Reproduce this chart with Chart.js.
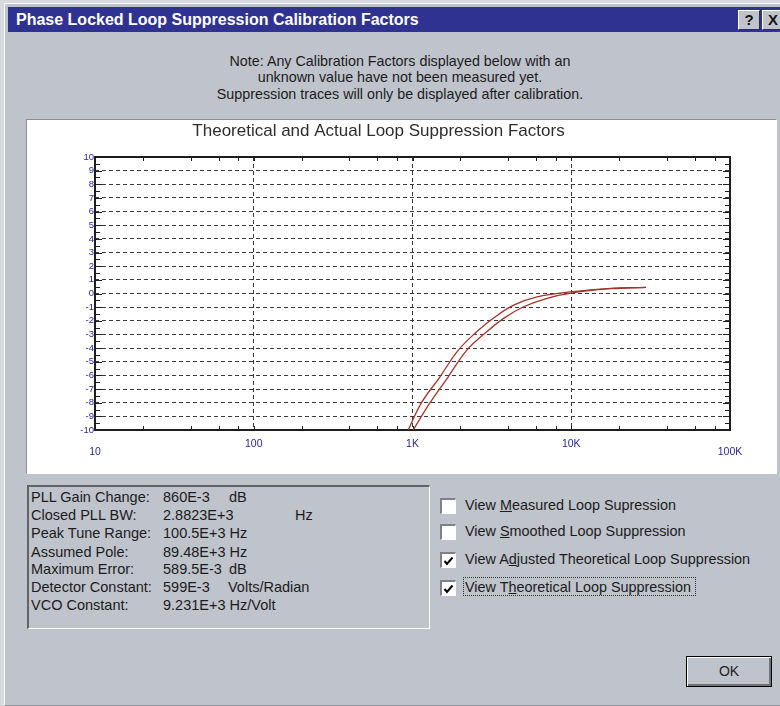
<!DOCTYPE html>
<html>
<head>
<meta charset="utf-8">
<script src="https://cdn.jsdelivr.net/npm/chart.js@4.4.0/dist/chart.umd.min.js"></script>
<style>
  body { margin: 0; width: 780px; height: 706px; overflow: hidden; background: #d6d9de; font-family: "Liberation Sans", Arial, sans-serif; color: #1c1c1c; }
  .abs { position: absolute; }
  .win { left: 4px; top: 3px; width: 800px; height: 701px; background: #bfc3cb; border-left: 1px solid #fff; border-top: 1px solid #fff; border-bottom: 1px solid #8d9199; }
  .titlebar { left: 8px; top: 7px; width: 780px; height: 25px; background: #2f3290; }
  .titletext { left: 16px; top: 7px; line-height: 25px; font-size: 16px; font-weight: bold; color: #fff; white-space: nowrap; }
  .tbtn { top: 10px; width: 20px; height: 18px; background: #bfc3cb; border-top: 1px solid #fff; border-left: 1px solid #fff; border-right: 1px solid #303030; border-bottom: 1px solid #303030; font-weight: bold; font-size: 15px; line-height: 18px; text-align: center; color: #111; }
  .note { left: 100px; top: 52.5px; width: 600px; text-align: center; font-size: 14.3px; line-height: 16.5px; }
  .panel { left: 26px; top: 119px; width: 749px; height: 353px; background: #fff; border-top: 1px solid #8a8e96; border-left: 1px solid #8a8e96; border-bottom: 1px solid #fff; border-right: 1px solid #fff; }
  .chartbox { left: 27px; top: 120px; width: 748px; height: 352px; }
  .info { left: 27px; top: 485px; width: 400px; height: 141px; border-top: 2px solid #5f636a; border-left: 2px solid #5f636a; border-bottom: 1px solid #fff; border-right: 1px solid #fff; }
  .row { font-size: 14.5px; white-space: nowrap; line-height: 18px; }
  .cb { left: 440px; width: 13px; height: 13px; background: #fff; border-top: 2px solid #7d8188; border-left: 2px solid #7d8188; border-bottom: 1px solid #fff; border-right: 1px solid #fff; }
  .cbl { left: 465px; font-size: 14.4px; line-height: 18px; white-space: nowrap; }
  .focus { left: 463px; top: 577px; width: 231px; height: 17px; border: 1px dotted #333; }
  .ok { left: 686px; top: 656px; width: 84px; height: 29px; border: 1px solid #000; box-shadow: inset 1px 1px #fff, inset -2px -2px #6e727a; text-align: center; line-height: 29px; font-size: 14px; color: #222; }
</style>
</head>
<body>
<div class="abs win"></div>
<div class="abs titlebar"></div>
<div class="abs titletext">Phase Locked Loop Suppression Calibration Factors</div>
<div class="abs tbtn" style="left:738px">?</div>
<div class="abs tbtn" style="left:762px">X</div>

<div class="abs note">Note: Any Calibration Factors displayed below with an<br>unknown value have not been measured yet.<br>Suppression traces will only be displayed after calibration.</div>

<div class="abs panel"></div>
<div class="abs chartbox"><canvas id="loop-graph"></canvas></div>

<div class="abs info"></div>
<div class="abs row" style="left:31px;top:488px">PLL Gain Change:</div>
<div class="abs row" style="left:163px;top:488px">860E-3</div>
<div class="abs row" style="left:229px;top:488px">dB</div>
<div class="abs row" style="left:31px;top:506px">Closed PLL BW:</div>
<div class="abs row" style="left:163px;top:506px">2.8823E+3</div>
<div class="abs row" style="left:295px;top:506px">Hz</div>
<div class="abs row" style="left:31px;top:524px">Peak Tune Range:</div>
<div class="abs row" style="left:163px;top:524px">100.5E+3 Hz</div>
<div class="abs row" style="left:31px;top:542.5px">Assumed Pole:</div>
<div class="abs row" style="left:163px;top:542.5px">89.48E+3 Hz</div>
<div class="abs row" style="left:31px;top:560px">Maximum Error:</div>
<div class="abs row" style="left:163px;top:560px">589.5E-3</div>
<div class="abs row" style="left:229px;top:560px">dB</div>
<div class="abs row" style="left:31px;top:578px">Detector Constant:</div>
<div class="abs row" style="left:163px;top:578px">599E-3</div>
<div class="abs row" style="left:228px;top:578px">Volts/Radian</div>
<div class="abs row" style="left:31px;top:596px">VCO Constant:</div>
<div class="abs row" style="left:163px;top:596px">9.231E+3 Hz/Volt</div>

<div class="abs cb" style="top:498px"></div>
<div class="abs cbl" style="top:496px">View <u>M</u>easured Loop Supression</div>
<div class="abs cb" style="top:524px"></div>
<div class="abs cbl" style="top:522px">View <u>S</u>moothed Loop Suppression</div>
<div class="abs cb" style="top:552px"><svg width="13" height="13"><polyline points="2.5,6 5,9 10.5,2.5" fill="none" stroke="#000" stroke-width="2"/></svg></div>
<div class="abs cbl" style="top:550px">View A<u>d</u>justed Theoretical Loop Suppression</div>
<div class="abs cb" style="top:580px"><svg width="13" height="13"><polyline points="2.5,6 5,9 10.5,2.5" fill="none" stroke="#000" stroke-width="2"/></svg></div>
<div class="abs cbl" style="top:578px">View T<u>h</u>eoretical Loop Suppression</div>
<div class="abs focus"></div>

<div class="abs ok">OK</div>

<script>
// traces (Hz, dB)
const adjustedFreq = [940, 1140, 1490, 1945, 2540, 3240, 4340, 6100, 9900, 17700, 29500]
const adjustedDb = [-10, -8.0, -6.1, -4.15, -2.8, -1.8, -0.85, -0.25, 0.12, 0.38, 0.45]
const theoreticalFreq = [1010, 1290, 1680, 2200, 2870, 3750, 5010, 7050, 10400, 17700, 29500]
const theoreticalDb = [-10, -8.0, -6.1, -4.15, -2.9, -1.82, -0.97, -0.35, 0.06, 0.35, 0.45]

// axes
const xTickValues = [10, 20, 40, 60, 80, 100, 200, 400, 600, 800, 1000, 2000, 4000, 6000, 8000, 10000, 20000, 40000, 60000, 80000, 100000]
const xDecades = [10, 100, 1000, 10000, 100000]
const xDecadeLabels = ['10', '100', '1K', '10K', '100K']
const yTickValues = [-10, -9, -8, -7, -6, -5, -4, -3, -2, -1, 0, 1, 2, 3, 4, 5, 6, 7, 8, 9, 10]

const labelBlue = '#2a2a96'
const gridGrey = '#3a3a3a'
const traceRed = '#a3352b'

const toPoints = (xs, ys) => xs.map((x, i) => ({ x: x, y: ys[i] }))

// solid frame plus the short inward tick marks on all four sides
const frameTicks = {
  id: 'frameTicks',
  beforeDatasetsDraw(chart) {
    const { ctx, chartArea: a, scales: { x, y } } = chart
    ctx.save()
    ctx.strokeStyle = '#1e1e1e'
    ctx.lineWidth = 1
    ctx.beginPath()
    y.ticks.forEach((t, i) => {
      const vals = [t.value]
      if (i < y.ticks.length - 1) vals.push((t.value + y.ticks[i + 1].value) / 2)
      vals.forEach((v, j) => {
        const py = Math.round(y.getPixelForValue(v)) + 0.5
        const len = j === 0 ? 7 : 5
        ctx.moveTo(a.left, py); ctx.lineTo(a.left + len, py)
        ctx.moveTo(a.right, py); ctx.lineTo(a.right - len, py)
      })
    })
    x.ticks.forEach(t => {
      if (t.value <= xDecades[0] || t.value >= xDecades[xDecades.length - 1]) return
      const px = Math.round(x.getPixelForValue(t.value)) + 0.5
      ctx.moveTo(px, a.top); ctx.lineTo(px, a.top + 4)
      ctx.moveTo(px, a.bottom); ctx.lineTo(px, a.bottom - 4)
    })
    ctx.stroke()
    ctx.lineWidth = 2
    ctx.strokeRect(Math.round(a.left), Math.round(a.top), Math.round(a.right - a.left), Math.round(a.bottom - a.top))
    ctx.restore()
  }
}

const isEdgeLabel = v => v === xDecades[0] || v === xDecades[xDecades.length - 1]

new Chart(document.getElementById('loop-graph'), {
  type: 'line',
  data: {
    datasets: [
      {
        label: 'Adjusted Theoretical Loop Suppression',
        data: toPoints(adjustedFreq, adjustedDb),
        borderColor: traceRed,
        borderWidth: 1.3,
        pointRadius: 0,
        tension: 0.4
      },
      {
        label: 'Theoretical Loop Suppression',
        data: toPoints(theoreticalFreq, theoreticalDb),
        borderColor: traceRed,
        borderWidth: 1.3,
        pointRadius: 0,
        tension: 0.4
      }
    ]
  },
  plugins: [frameTicks],
  options: {
    responsive: true,
    maintainAspectRatio: false,
    animation: false,
    layout: { padding: { left: 0, right: 45, top: 0, bottom: 0 } },
    plugins: {
      legend: { display: false },
      tooltip: { enabled: false },
      title: {
        display: true,
        text: 'Theoretical and Actual Loop Suppression Factors',
        color: '#2e2e2e',
        font: { family: '"Liberation Sans", Arial, sans-serif', size: 17, weight: 'normal', lineHeight: 1.2 },
        padding: { top: 1, bottom: 15.6 }
      }
    },
    scales: {
      x: {
        type: 'logarithmic',
        min: 10,
        max: 100000,
        afterBuildTicks: scale => { scale.ticks = xTickValues.map(v => ({ value: v })) },
        afterFit: scale => { scale.height = 42 },
        grid: {
          drawTicks: false,
          color: c => (c.tick && xDecades.includes(c.tick.value) && !isEdgeLabel(c.tick.value)) ? gridGrey : 'rgba(0,0,0,0)'
        },
        border: { display: false, dash: [4, 3] },
        ticks: {
          autoSkip: false,
          maxRotation: 0,
          padding: 8,
          color: labelBlue,
          font: c => ({
            family: '"Liberation Sans", Arial, sans-serif',
            size: 10.5,
            lineHeight: (c.tick && isEdgeLabel(c.tick.value)) ? 0.88 : 1.2
          }),
          callback: value => {
            const i = xDecades.indexOf(value)
            if (i < 0) return ''
            return isEdgeLabel(value) ? ['', xDecadeLabels[i]] : xDecadeLabels[i]
          }
        }
      },
      y: {
        min: -10,
        max: 10,
        afterBuildTicks: scale => { scale.ticks = yTickValues.map(v => ({ value: v })) },
        afterFit: scale => { scale.width = 68 },
        grid: {
          drawTicks: false,
          color: c => (c.tick && Math.abs(c.tick.value) === 10) ? 'rgba(0,0,0,0)' : gridGrey
        },
        border: { display: false, dash: [4, 3] },
        ticks: {
          autoSkip: false,
          padding: 1,
          color: labelBlue,
          font: { family: '"Liberation Sans", Arial, sans-serif', size: 9.5 },
          callback: value => String(value)
        }
      }
    }
  }
})
</script>
</body>
</html>
